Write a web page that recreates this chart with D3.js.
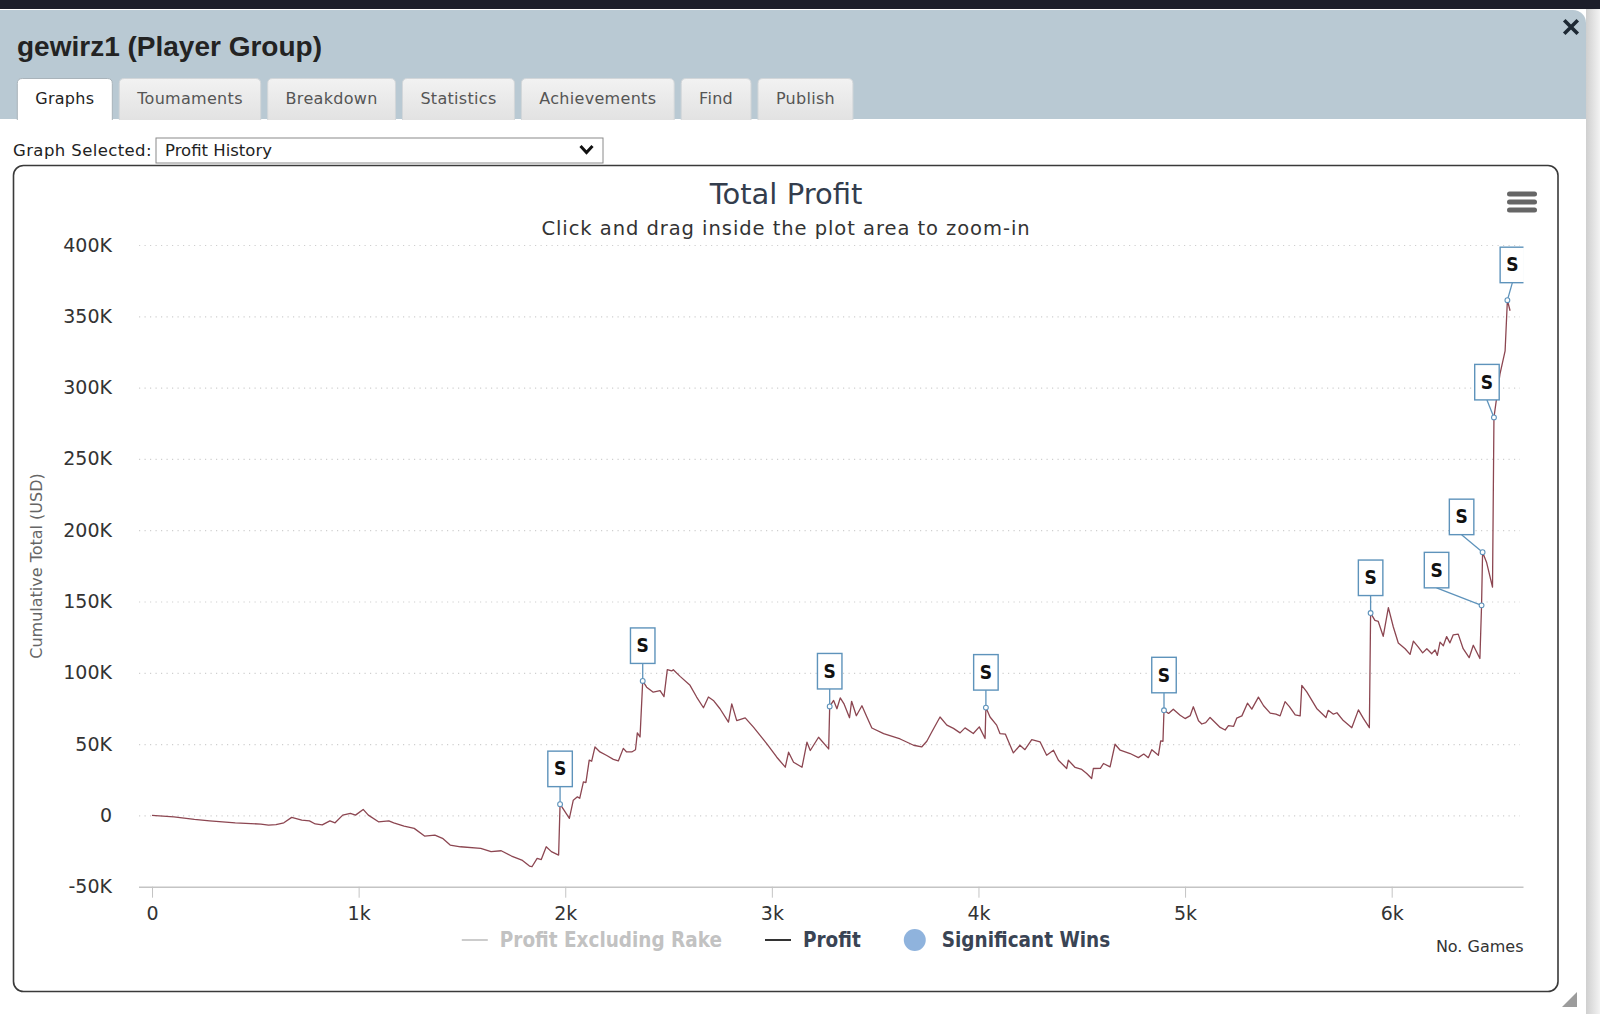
<!DOCTYPE html>
<html>
<head>
<meta charset="utf-8">
<script src="https://cdn.jsdelivr.net/npm/d3@7"></script>
<style>
  html, body { margin: 0; padding: 0; background: #fff; }
  svg { display: block; }
</style>
</head>
<body>
<div id="chart"></div>
<script>
// --- data ---
const tabs = ["Graphs", "Toumaments", "Breakdown", "Statistics", "Achievements", "Find", "Publish"];
const yTicks = [-50000, 0, 50000, 100000, 150000, 200000, 250000, 300000, 350000, 400000];
const xTicks = [0, 1000, 2000, 3000, 4000, 5000, 6000];

// games played
const games = [
  0, 106, 205, 279, 403, 527, 564, 600, 638, 676, 725, 762, 790, 824, 861, 886, 923, 960, 985, 1022,
  1047, 1096, 1146, 1170, 1220, 1269, 1319, 1369, 1406, 1443, 1493, 1591, 1641, 1690, 1740, 1790, 1827, 1839, 1864, 1884,
  1908, 1933, 1968, 1975, 2020, 2039, 2059, 2070, 2088, 2100, 2116, 2128, 2144, 2168, 2201, 2233, 2257, 2281, 2297, 2322,
  2340, 2349, 2362, 2375, 2394, 2426, 2459, 2478, 2494, 2515, 2523, 2556, 2604, 2636, 2669, 2693, 2717, 2749, 2790, 2806,
  2830, 2871, 2911, 2976, 3024, 3065, 3081, 3105, 3146, 3170, 3186, 3226, 3275, 3280, 3299, 3315, 3331, 3350, 3376, 3386,
  3409, 3436, 3460, 3484, 3541, 3621, 3686, 3725, 3750, 3774, 3814, 3847, 3879, 3911, 3935, 3975, 4004, 4032, 4036, 4056,
  4088, 4104, 4130, 4169, 4201, 4225, 4258, 4298, 4330, 4363, 4387, 4427, 4435, 4468, 4500, 4524, 4548, 4556, 4590, 4605,
  4637, 4661, 4686, 4734, 4774, 4800, 4822, 4839, 4871, 4882, 4893, 4898, 4920, 4943, 4976, 5000, 5025, 5040, 5065, 5081,
  5100, 5121, 5170, 5194, 5210, 5235, 5250, 5275, 5302, 5323, 5355, 5380, 5412, 5440, 5460, 5484, 5505, 5533, 5557, 5565,
  5589, 5637, 5682, 5693, 5718, 5735, 5766, 5807, 5839, 5863, 5892, 5898, 5919, 5935, 5959, 5984, 6008, 6032, 6065, 6089,
  6105, 6129, 6150, 6170, 6194, 6210, 6221, 6234, 6250, 6266, 6282, 6298, 6322, 6346, 6375, 6395, 6427, 6435, 6440, 6459,
  6488, 6495, 6524, 6549, 6560, 6573
];
// cumulative profit, thousands of USD
const profitK = [
  0, -1, -2.8, -3.8, -5.2, -6.1, -6.8, -6.5, -5.2, -1.4, -3.3, -3.8, -6, -6.6, -3.8, -5.2, 0.2, 1.4, 0.2, 4.2,
  0.2, -4.5, -3.8, -5.2, -7.5, -9.1, -14.5, -13.8, -16.1, -20.8, -22, -23.1, -25.4, -24.8, -28.5, -31.3, -35.5, -36, -30.2, -31,
  -22, -25.4, -27.8, 7.9, -2.1, 10.7, 13, 12, 23.5, 23, 38.7, 38, 48, 44.5, 42, 39.3, 38.2, 47, 44.5, 44.5,
  46, 57.9, 55, 94.3, 89.9, 86.4, 87.5, 83.3, 102.2, 101.3, 102.2, 97.5, 91.2, 83, 75.5, 83, 80.6, 74.8, 65.4, 78.2,
  66.5, 68.4, 61.9, 50.2, 40.8, 33.8, 44.3, 37.3, 33.8, 51.3, 45.5, 54.8, 46.6, 76.4, 80.6, 74.8, 82.4, 78, 68.5, 80,
  69.9, 76.9, 69, 61.3, 57.3, 53.6, 49.2, 48, 52, 58.5, 69, 63.3, 61, 57.9, 61.4, 57.4, 62.1, 53.9, 75.6, 69,
  63.3, 57.4, 57, 43.8, 49.2, 46.1, 53.2, 51.6, 42.2, 45.7, 38.7, 32.9, 38.7, 33.6, 32.2, 29.4, 25.9, 32.9, 33, 36.4,
  34, 49.9, 45.7, 43.4, 40.5, 43, 40.5, 46.1, 42.2, 52.2, 52, 73.7, 71.5, 74.5, 70.2, 67.9, 70, 76.2, 66.4, 64.1,
  65, 68.7, 61.7, 59.9, 62.9, 62.5, 68.2, 69.8, 78.7, 74.5, 82.9, 76.9, 71.7, 71, 69.8, 79.8, 76.3, 70.5, 69.8, 91.2,
  86.6, 75, 68.6, 73.7, 71, 72, 66.5, 61.5, 74, 68, 61.5, 141.9, 136.8, 136, 125.6, 145.7, 132.1, 120.9, 116.9, 112.9,
  122.2, 118, 114, 116.9, 113.4, 116, 112.2, 121.5, 119, 125.4, 121, 126.6, 127.1, 116.9, 110.6, 119.3, 110, 147.3, 184.6, 177.6,
  160.1, 279.1, 309.5, 325.8, 361.3, 353.9
];
// games at which a significant win was flagged
const winGames = [1975, 2375, 3280, 4036, 4898, 5898, 6435, 6440, 6495, 6560];
const legendNames = ["Profit Excluding Rake", "Profit", "Significant Wins"];

// --- page ---
const W = 1600, H = 1014;
const svg = d3.select("#chart").append("svg").attr("width", W).attr("height", H);
const defs = svg.append("defs");
const shade = defs.append("linearGradient").attr("id", "shade").attr("x1", 0).attr("x2", 1);
shade.append("stop").attr("offset", 0).attr("stop-color", "#cfcfcf");
shade.append("stop").attr("offset", 1).attr("stop-color", "#f3f3f3");
const tabGrad = defs.append("linearGradient").attr("id", "tabg").attr("x1", 0).attr("x2", 0).attr("y1", 0).attr("y2", 1);
tabGrad.append("stop").attr("offset", 0).attr("stop-color", "#f2f2f2");
tabGrad.append("stop").attr("offset", 1).attr("stop-color", "#e2e2e2");

svg.append("rect").attr("width", W).attr("height", 9).attr("fill", "#1c1e2a");
svg.append("rect").attr("x", 1586).attr("y", 9).attr("width", 14).attr("height", H - 9).attr("fill", "url(#shade)");
svg.append("path")
  .attr("d", `M0,10 H1573 A13,13 0 0 1 1586,23 V${H} H0 Z`)
  .attr("fill", "#fff");
svg.append("path")
  .attr("d", "M0,10 H1573 A13,13 0 0 1 1586,23 V119 H0 Z")
  .attr("fill", "#b9c9d3");

svg.append("text").attr("x", 17).attr("y", 56)
  .attr("font-family", "'Liberation Sans', Arial, sans-serif").attr("font-weight", "bold")
  .attr("font-size", 28).attr("fill", "#232323").text("gewirz1 (Player Group)");

// close cross
svg.append("path").attr("d", "M1565.5,21.5 L1576.5,32.5 M1576.5,21.5 L1565.5,32.5")
  .attr("stroke", "#1d2833").attr("stroke-width", 3.6).attr("stroke-linecap", "square");

// tabs
const tabG = svg.append("g").attr("font-family", "'DejaVu Sans', sans-serif").attr("font-size", 16)
  .attr("letter-spacing", 0.3);
let tx = 17.3;
tabs.forEach((name, i) => {
  const g = tabG.append("g");
  const label = g.append("text").attr("y", 104).attr("fill", i === 0 ? "#222" : "#555").text(name);
  const tw = label.node().getComputedTextLength();
  const w = tw + 35.8;
  g.insert("path", "text")
    .attr("d", `M${tx},120 V${83.5} Q${tx},78.5 ${tx + 5},78.5 H${tx + w - 5} Q${tx + w},78.5 ${tx + w},83.5 V120`)
    .attr("fill", i === 0 ? "#fff" : "url(#tabg)")
    .attr("stroke", i === 0 ? "#a9b3ba" : "#d2d6d9").attr("stroke-width", 1);
  label.attr("x", tx + w / 2).attr("text-anchor", "middle");
  tx += w + 7;
});

// graph selector
const sel = svg.append("g").attr("font-family", "'DejaVu Sans', sans-serif").attr("font-size", 16.5).attr("fill", "#222");
sel.append("text").attr("x", 13).attr("y", 156).attr("letter-spacing", 0.4).text("Graph Selected:");
sel.append("rect").attr("x", 156).attr("y", 138).attr("width", 447).attr("height", 25)
  .attr("fill", "#fff").attr("stroke", "#8a8a8a");
sel.append("text").attr("x", 165).attr("y", 156).text("Profit History");
sel.append("path").attr("d", "M580.5,146 L586.5,152.5 L592.5,146").attr("fill", "none")
  .attr("stroke", "#111").attr("stroke-width", 3);

// chart frame
svg.append("rect").attr("x", 13.5).attr("y", 165.5).attr("width", 1544.5).attr("height", 826)
  .attr("rx", 10).attr("fill", "#fff").attr("stroke", "#3a3a3a").attr("stroke-width", 1.6);
// resize grip
svg.append("path").attr("d", "M1577,992 V1007 H1562 Z").attr("fill", "#9c9c9c");

// menu button
svg.append("g").selectAll("rect").data([0, 1, 2]).join("rect")
  .attr("x", 1507).attr("y", (d) => 191.5 + d * 8).attr("width", 30).attr("height", 5).attr("rx", 2.5)
  .attr("fill", "#666");

// --- chart ---
const plot = { left: 139, right: 1523.5, top: 245, bottom: 886.7 };
const center = 786;
const font = "'DejaVu Sans', sans-serif";
const x = d3.scaleLinear().domain([-63, 6638]).range([plot.left, plot.right]);
const y = d3.scaleLinear().domain([-50000, 400000]).range([plot.bottom, plot.top]);

svg.append("text").attr("x", center).attr("y", 204).attr("text-anchor", "middle")
  .attr("font-family", font).attr("font-size", 29).attr("fill", "#333d4d").text("Total Profit");
svg.append("text").attr("x", center).attr("y", 235).attr("text-anchor", "middle")
  .attr("font-family", font).attr("font-size", 19.5).attr("fill", "#333").attr("letter-spacing", 0.95)
  .text("Click and drag inside the plot area to zoom-in");

// grid
const grid = svg.append("g").attr("transform", `translate(${plot.left},0)`)
  .call(d3.axisLeft(y).tickValues(yTicks.filter((d) => d > -50000)).tickSize(-(1520 - plot.left)).tickFormat(""));
grid.select(".domain").remove();
grid.selectAll("line").attr("stroke", "#cfcfcf").attr("stroke-width", 1.2).attr("stroke-dasharray", "1.2,4.3");

// y axis labels
const yAxis = svg.append("g").attr("transform", "translate(122,0)")
  .call(d3.axisLeft(y).tickValues(yTicks).tickSize(0).tickPadding(10)
    .tickFormat((d) => (d === 0 ? "0" : d / 1000 + "K")));
yAxis.select(".domain").remove();
yAxis.selectAll("text").attr("font-family", font).attr("font-size", 19).attr("fill", "#333");

svg.append("text").attr("transform", `translate(42,566) rotate(-90)`).attr("text-anchor", "middle")
  .attr("font-family", font).attr("font-size", 16).attr("fill", "#666").text("Cumulative Total (USD)");

// x axis
const xAxis = svg.append("g").attr("transform", `translate(0,${plot.bottom})`)
  .call(d3.axisBottom(x).tickValues(xTicks).tickSize(11).tickPadding(9)
    .tickFormat((d) => (d === 0 ? "0" : d / 1000 + "k")));
xAxis.select(".domain").attr("d", `M${plot.left},0.5H${plot.right}`).attr("stroke", "#c4c4c4").attr("stroke-width", 1.5);
xAxis.selectAll("line").attr("stroke", "#c4c4c4");
xAxis.selectAll("text").attr("font-family", font).attr("font-size", 19).attr("fill", "#333");

svg.append("text").attr("x", plot.right).attr("y", 952).attr("text-anchor", "end")
  .attr("font-family", font).attr("font-size", 16).attr("fill", "#333").text("No. Games");

// series
const series = games.map((g, i) => ({ g, v: profitK[i] * 1000 }));
defs.append("clipPath").attr("id", "plotclip").append("rect")
  .attr("x", plot.left).attr("y", 0).attr("width", plot.right - plot.left).attr("height", plot.bottom);
const plotG = svg.append("g").attr("clip-path", "url(#plotclip)");
plotG.append("path").datum(series)
  .attr("fill", "none").attr("stroke", "#8c4651").attr("stroke-width", 1.3).attr("stroke-linejoin", "round")
  .attr("d", d3.line().x((d) => x(d.g)).y((d) => y(d.v)));

// significant-win flags
const flagShift = [0, 0, 0, 0, 0, 0, -45, -21, -7, 5];
const flagW = 24.5, flagH = 35.5, flagGap = 17.5;
const flags = winGames.map((g, i) => {
  const p = series.find((d) => d.g === g);
  return { px: x(p.g), py: y(p.v), cx: x(p.g) + flagShift[i] };
});
const fl = plotG.append("g").selectAll("g").data(flags).join("g");
fl.append("line").attr("x1", (d) => d.cx).attr("y1", (d) => d.py - flagGap)
  .attr("x2", (d) => d.px).attr("y2", (d) => d.py).attr("stroke", "#5e93bb").attr("stroke-width", 1.3);
fl.append("rect").attr("x", (d) => d.cx - flagW / 2).attr("y", (d) => d.py - flagGap - flagH)
  .attr("width", flagW).attr("height", flagH).attr("fill", "#fff").attr("stroke", "#5e93bb").attr("stroke-width", 1.4);
fl.append("text").attr("x", (d) => d.cx).attr("y", (d) => d.py - flagGap - flagH / 2 + 6.5)
  .attr("text-anchor", "middle").attr("font-family", "'DejaVu Sans Condensed', 'DejaVu Sans', sans-serif")
  .attr("font-weight", "bold").attr("font-size", 19).attr("fill", "#111").text("S");
fl.append("circle").attr("cx", (d) => d.px).attr("cy", (d) => d.py).attr("r", 2.4)
  .attr("fill", "#fff").attr("stroke", "#5e93bb").attr("stroke-width", 1.1);

// legend
const legend = svg.append("g").attr("font-family", "'DejaVu Sans Condensed', 'DejaVu Sans', sans-serif")
  .attr("font-weight", "bold").attr("font-size", 20.5);
const legendColors = ["#c2c2c2", "#3a4454", "#3a4454"];
const items = legendNames.map((name, i) => {
  const g = legend.append("g");
  const t = g.append("text").attr("y", 947).attr("fill", legendColors[i]).text(name);
  return { g, t, w: t.node().getComputedTextLength() };
});
const symW = 26, symGap = 12, itemGap = 43;
const total = d3.sum(items, (d) => symW + symGap + d.w) + itemGap * (items.length - 1);
let lx = center - total / 2;
items.forEach((it, i) => {
  if (i < 2) {
    it.g.append("line").attr("x1", lx).attr("x2", lx + symW).attr("y1", 940).attr("y2", 940)
      .attr("stroke", i === 0 ? "#cccccc" : "#333").attr("stroke-width", 2);
  } else {
    it.g.append("circle").attr("cx", lx + 11).attr("cy", 940).attr("r", 11).attr("fill", "#8fb3dd");
  }
  it.t.attr("x", lx + symW + symGap);
  lx += symW + symGap + it.w + itemGap;
});
</script>
</body>
</html>
